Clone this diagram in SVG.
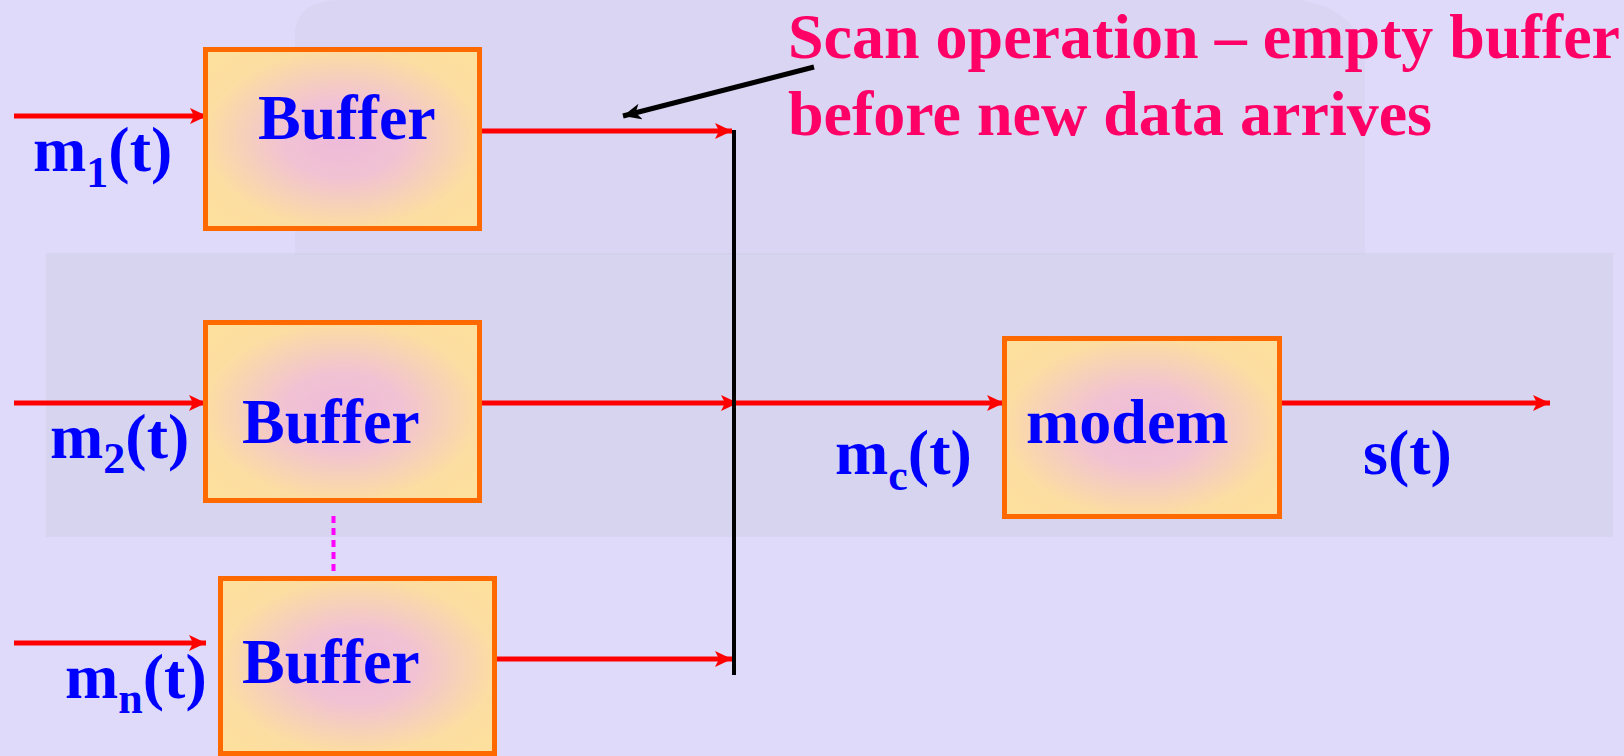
<svg xmlns="http://www.w3.org/2000/svg" width="1624" height="756" viewBox="0 0 1624 756">
<style>
.box{stroke:#FF6A00;stroke-width:5;fill:url(#bf)}
.lbl{font-family:"Liberation Serif","Times New Roman",serif;font-weight:bold;font-size:64px;fill:#0000FF}
.sub{font-size:44px}
.note{font-family:"Liberation Serif","Times New Roman",serif;font-weight:bold;font-size:64px;fill:#FF0066}
.red{stroke:#FF0000;stroke-width:5;fill:none;marker-end:url(#ah)}
</style>
<defs>
<radialGradient id="bf" cx="0.5" cy="0.5" r="0.62">
<stop offset="0" stop-color="#EEBAD9"/>
<stop offset="0.35" stop-color="#F1C2D3"/>
<stop offset="0.8" stop-color="#FCDDA2"/>
<stop offset="1" stop-color="#FDDF9E"/>
</radialGradient>
<marker id="ah" markerUnits="userSpaceOnUse" markerWidth="18" markerHeight="16" refX="17" refY="8" orient="auto">
<path d="M0,0 L17,8 L0,16 L4,8 z" fill="#FF0000"/>
</marker>
<marker id="ahk" markerUnits="userSpaceOnUse" markerWidth="20" markerHeight="16" refX="18" refY="8" orient="auto">
<path d="M0,0 L18,8 L0,16 L5,8 z" fill="#000000"/>
</marker>
</defs>
<rect width="1624" height="756" fill="#DFDAF9"/>
<g id="background">
<path d="M295,255 L295,30 Q300,0 340,0 L1300,0 Q1360,10 1365,60 L1365,255 Z" fill="#CFCBE4" opacity="0.35"/>
<rect x="46" y="253" width="1567" height="284" fill="#CFCBE4" opacity="0.45"/>
</g>
<g id="connectors">
<line class="red" x1="14" y1="116" x2="207" y2="116"/>
<line class="red" x1="14" y1="403" x2="206" y2="403"/>
<line class="red" x1="14" y1="643" x2="206" y2="643"/>
<line class="red" x1="482" y1="131" x2="732" y2="131"/>
<line class="red" x1="482" y1="403" x2="738" y2="403"/>
<line class="red" x1="738" y1="403" x2="1004" y2="403"/>
<line class="red" x1="497" y1="659" x2="732" y2="659"/>
<line class="red" x1="1282" y1="403" x2="1550" y2="403"/>
<line x1="734" y1="130" x2="734" y2="675" stroke="#000" stroke-width="4"/>
<line x1="333.5" y1="516" x2="333.5" y2="575" stroke="#FF00FF" stroke-width="4" stroke-dasharray="7,5"/>
<line x1="814" y1="67" x2="623" y2="116" stroke="#000" stroke-width="5" marker-end="url(#ahk)"/>
</g>
<g id="buffer1">
<rect class="box" x="205.5" y="49.5" width="274" height="179"/>
<text class="lbl" x="258" y="139">Buffer</text>
</g>
<g id="buffer2">
<rect class="box" x="205.5" y="322.5" width="274" height="178"/>
<text class="lbl" x="242" y="443">Buffer</text>
</g>
<g id="buffern">
<rect class="box" x="220.5" y="578.5" width="274" height="175"/>
<text class="lbl" x="242" y="683">Buffer</text>
</g>
<g id="modem">
<rect class="box" x="1004.5" y="338.5" width="275" height="178"/>
<text class="lbl" x="1026" y="443">modem</text>
</g>
<g id="labels">
<text class="lbl" x="33" y="171">m<tspan class="sub" dy="16">1</tspan><tspan dy="-16">(t)</tspan></text>
<text class="lbl" x="50" y="458">m<tspan class="sub" dy="15">2</tspan><tspan dy="-15">(t)</tspan></text>
<text class="lbl" x="65" y="698">m<tspan class="sub" dy="15">n</tspan><tspan dy="-15">(t)</tspan></text>
<text class="lbl" x="835" y="474">m<tspan class="sub" dy="16">c</tspan><tspan dy="-16">(t)</tspan></text>
<text class="lbl" x="1363" y="474">s(t)</text>
</g>
<g id="note">
<text class="note" x="788" y="58">Scan operation – empty buffer</text>
<text class="note" x="788" y="135">before new data arrives</text>
</g>
</svg>
